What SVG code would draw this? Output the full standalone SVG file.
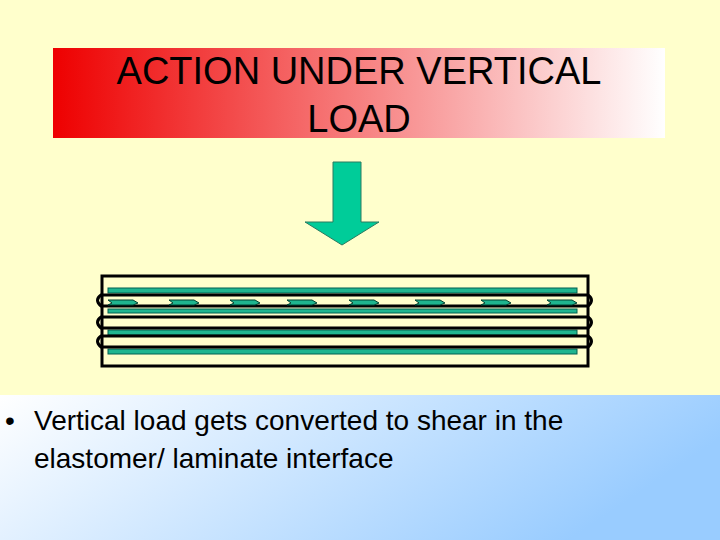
<svg xmlns="http://www.w3.org/2000/svg" width="720" height="540" viewBox="0 0 720 540">
<defs>
<linearGradient id="tg" x1="0" x2="1" y1="0" y2="0"><stop offset="0" stop-color="#EE0000"/><stop offset="1" stop-color="#FFFFFF"/></linearGradient>
<linearGradient id="bg" x1="0" x2="1" y1="0" y2="0.3"><stop offset="0" stop-color="#FFFFFF"/><stop offset="1" stop-color="#99CCFF"/></linearGradient>
<style>
.pl{fill:#1FB58F;stroke:#006050;stroke-width:1}
.bd{fill:none;stroke:#000;stroke-width:3}
.ch{fill:#1FB58F;stroke:#004030;stroke-width:1}
.t{font-family:"Liberation Sans",Arial,sans-serif;fill:#000}
</style>
</defs>
<rect width="720" height="540" fill="#FFFFCC"/>
<rect y="395" width="720" height="145" fill="url(#bg)"/>
<g id="title">
<rect x="53" y="48" width="612" height="90" fill="url(#tg)"/>
<text class="t" x="359" y="84" font-size="38" text-anchor="middle" fill="#200000">ACTION UNDER VERTICAL</text>
<text class="t" x="359" y="132" font-size="38" text-anchor="middle">LOAD</text>
</g>
<g id="arrow">
<polygon points="333,162 361,162 361,222 379,222 342,245 305,222 333,222" fill="#00CC99" stroke="#2a7a60" stroke-width="1"/>
</g>
<g id="bearing">
<rect x="102" y="276" width="486" height="90" fill="none" stroke="#000" stroke-width="3"/>
<rect class="pl" x="108" y="288" width="469" height="5"/>
<rect class="pl" x="108" y="309" width="469" height="4"/>
<rect class="pl" x="108" y="330" width="469" height="5"/>
<rect class="pl" x="108" y="349" width="469" height="5"/>
<path class="bd" d="M101,295 H588 Q595,300 588,306 H101 Q94,300 101,295 Z"/>
<path class="bd" d="M101,317 H588 Q595,322 588,328 H101 Q94,322 101,317 Z"/>
<path class="bd" d="M101,336 H588 Q595,341 588,347 H101 Q94,341 101,336 Z"/>
<g id="chevrons">
<polygon class="ch" points="108,300 133,300 138,303 133,305 108,305 112,303"/>
<polygon class="ch" points="169,300 194,300 199,303 194,305 169,305 173,303"/>
<polygon class="ch" points="230,300 255,300 260,303 255,305 230,305 234,303"/>
<polygon class="ch" points="287,300 312,300 317,303 312,305 287,305 291,303"/>
<polygon class="ch" points="349,300 374,300 379,303 374,305 349,305 353,303"/>
<polygon class="ch" points="415,300 440,300 445,303 440,305 415,305 419,303"/>
<polygon class="ch" points="481,300 506,300 511,303 506,305 481,305 485,303"/>
<polygon class="ch" points="547,300 572,300 577,303 572,305 547,305 551,303"/>
</g>
</g>
<g id="text">
<text class="t" x="5" y="430" font-size="28">•</text>
<text class="t" x="34" y="430" font-size="28">Vertical load gets converted to shear in the</text>
<text class="t" x="34" y="468" font-size="28">elastomer/ laminate interface</text>
</g>
</svg>
